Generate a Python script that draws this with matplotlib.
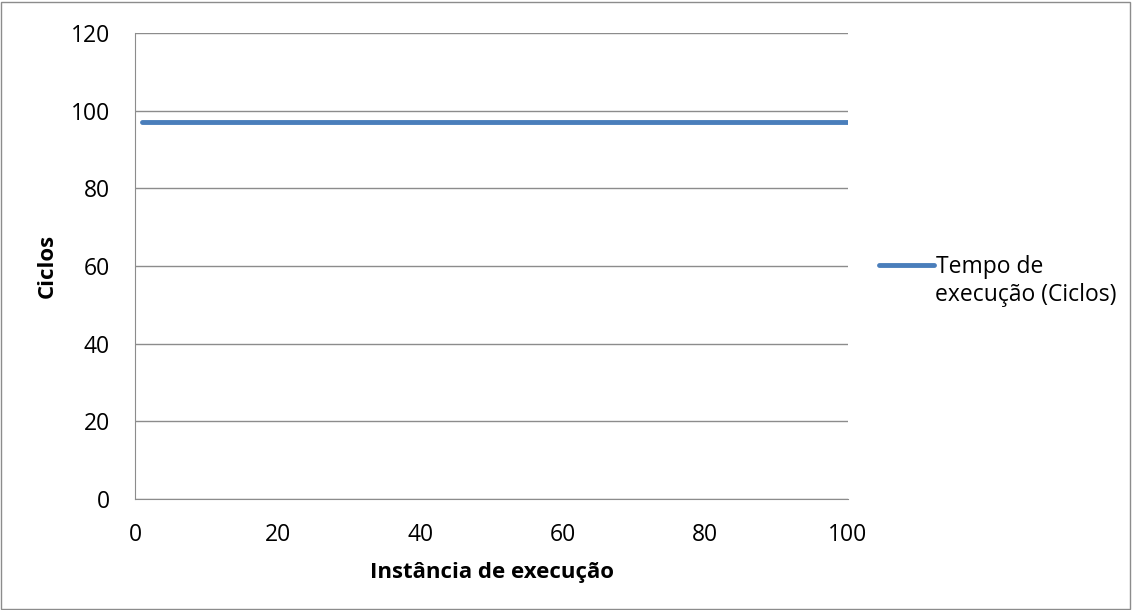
import matplotlib.pyplot as plt
from matplotlib.patches import Rectangle

plt.rcParams['font.family'] = ['Open Sans', 'DejaVu Sans']

# execução 1..100, cada uma levou 97 ciclos
instancias = list(range(1, 101))
ciclos = [97] * 100
yticks = [0, 20, 40, 60, 80, 100, 120]
xticks = [0, 20, 40, 60, 80, 100]

W, H = 1132, 610
FS = 16.5

fig = plt.figure(figsize=(W / 100, H / 100), dpi=100)
ax = fig.add_axes([135 / W, 1 - 499 / H, (848 - 135) / W, (499 - 33) / H])

ax.plot(instancias, ciclos, color='#4a7ebb', linewidth=3.5,
        solid_capstyle='round', label='Tempo de', zorder=3)

ax.set_xlim(0, 100)
ax.set_ylim(0, 120)
ax.set_xticks(xticks)
ax.set_yticks(yticks)
ax.tick_params(axis='x', length=0, labelsize=FS, pad=17)
ax.tick_params(axis='y', length=0, labelsize=FS, pad=18)
ax.grid(axis='y', color='#8c8c8c', linewidth=1)
ax.set_axisbelow(True)
for s in ['top', 'right']:
    ax.spines[s].set_visible(False)
for s in ['left', 'bottom']:
    ax.spines[s].set_color('#8c8c8c')

ax.set_xlabel('Instância de execução', fontsize=16, fontweight='bold', labelpad=11)
ax.set_ylabel('Ciclos', fontsize=16, fontweight='bold', labelpad=9)

# legenda: traço + primeira linha, segunda linha logo abaixo
ax.legend(loc='center left', bbox_to_anchor=(879 / W, 1 - 267 / H),
          bbox_transform=fig.transFigure, frameon=False, fontsize=FS,
          handlelength=2.4, handletextpad=0.08, borderaxespad=0, borderpad=0)
fig.text(935 / W, 1 - 295 / H, 'execução (Ciclos)', fontsize=FS, va='center')

fig.patches.append(Rectangle((1 / W, 1 / H), 1129 / W, 607 / H,
                             transform=fig.transFigure, fill=False,
                             edgecolor='#8c8c8c', linewidth=1))

fig.savefig('out.png', dpi=100)
